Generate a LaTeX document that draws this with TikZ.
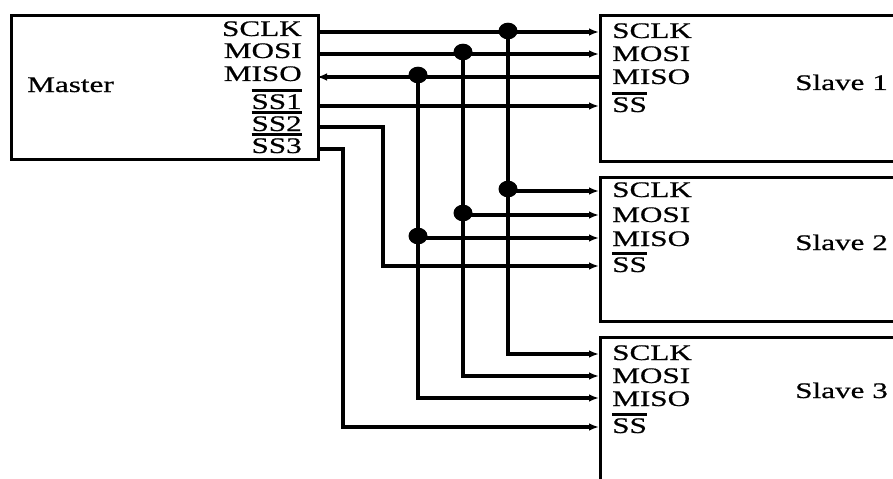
\documentclass[tikz,border=0pt]{standalone}
\usepackage{fontspec}
\setmainfont[FakeStretch=1.4, FakeBold=0.6]{Liberation Serif}
\usetikzlibrary{arrows.meta, shapes.geometric, positioning, calc}
\newcommand{\barsig}[1]{\setbox0\hbox{#1}\rlap{\rule[\dimexpr\ht0+2pt\relax]{\wd0}{2.2pt}}\box0}
\tikzset{
  chipbox/.style={
    rectangle, draw=black, line width=2.8pt,
    anchor=north west, inner sep=0pt
  },
  pinlabel/.style={inner sep=0pt, font=\fontsize{19}{21}\selectfont},
  busline/.style={line width=2.8pt},
  busarrow/.style={busline, -{Latex[length=3mm,width=2.3mm]}},
  junction/.style={
    ellipse, fill=black, inner sep=0pt,
    minimum width=0.57cm, minimum height=0.5cm
  },
}

\begin{document}
\begin{tikzpicture}[x=0.03cm, y=-0.03cm]
    \path[use as bounding box, clip] (0,0) rectangle (893,479);

    % chips
    \node[chipbox, minimum width=9.21cm, minimum height=4.32cm] (master) at (10,14){};
    \node[chipbox, minimum width=9.4cm,  minimum height=4.38cm] (slave1) at (599,14){};
    \node[chipbox, minimum width=9.4cm,  minimum height=4.32cm] (slave2) at (599,176){};
    \node[chipbox, minimum width=9.4cm,  minimum height=5.2cm]  (slave3) at (599,336){};

    \node[pinlabel, anchor=base west] (mname) at (27,92){Master};
    \node[pinlabel, anchor=base west] (s1-name) at (795,90){Slave 1};
    \node[pinlabel, anchor=base west] (s2-name) at (795,250){Slave 2};
    \node[pinlabel, anchor=base west] (s3-name) at (795,398){Slave 3};

    % master pins
    \node[pinlabel, anchor=base east] (ml-sclk) at (302,36){SCLK};
    \node[pinlabel, anchor=base east] (ml-mosi) at (302,58){MOSI};
    \node[pinlabel, anchor=base east] (ml-miso) at (302,81){MISO};
    \node[pinlabel, anchor=base east] (ml-ssa)  at (302,109){\barsig{SS1}};
    \node[pinlabel, anchor=base east] (ml-ssb)  at (302,131){\barsig{SS2}};
    \node[pinlabel, anchor=base east] (ml-ssc)  at (302,153){\barsig{SS3}};

    \coordinate (m-sclk) at (317,32);
    \coordinate (m-mosi) at (317,54);
    \coordinate (m-miso) at (317,77);
    \coordinate (m-ssa)  at (317,106);
    \coordinate (m-ssb)  at (317,127);
    \coordinate (m-ssc)  at (317,149);

    % slave pins
    \node[pinlabel, anchor=base west] (s1l-sclk) at (612,38){SCLK};
    \node[pinlabel, anchor=base west] (s1l-mosi) at (612,61){MOSI};
    \node[pinlabel, anchor=base west] (s1l-miso) at (612,84){MISO};
    \node[pinlabel, anchor=base west] (s1l-ss)   at (612,112){\barsig{SS}};
    \node[pinlabel, anchor=base west] (s2l-sclk) at (612,197){SCLK};
    \node[pinlabel, anchor=base west] (s2l-mosi) at (612,222){MOSI};
    \node[pinlabel, anchor=base west] (s2l-miso) at (612,246){MISO};
    \node[pinlabel, anchor=base west] (s2l-ss)   at (612,272){\barsig{SS}};
    \node[pinlabel, anchor=base west] (s3l-sclk) at (612,360){SCLK};
    \node[pinlabel, anchor=base west] (s3l-mosi) at (612,383){MOSI};
    \node[pinlabel, anchor=base west] (s3l-miso) at (612,406){MISO};
    \node[pinlabel, anchor=base west] (s3l-ss)   at (612,433){\barsig{SS}};

    \coordinate (s1-sclk) at (599,32);
    \coordinate (s1-mosi) at (599,54);
    \coordinate (s1-miso) at (599,77);
    \coordinate (s1-ss)   at (599,106);
    \coordinate (s2-sclk) at (599,191);
    \coordinate (s2-mosi) at (599,215);
    \coordinate (s2-miso) at (599,238);
    \coordinate (s2-ss)   at (599,266);
    \coordinate (s3-sclk) at (599,354);
    \coordinate (s3-mosi) at (599,376);
    \coordinate (s3-miso) at (599,398);
    \coordinate (s3-ss)   at (599,427);

    % junctions and bends
    \node[junction] (j1-sclk) at (508,31){};
    \node[junction] (j1-mosi) at (463,52){};
    \node[junction] (j1-miso) at (418,75){};
    \node[junction] (j2-sclk) at (508,189){};
    \node[junction] (j2-mosi) at (463,213){};
    \node[junction] (j2-miso) at (418,236){};
    \coordinate (k-ssb) at (383,127);
    \coordinate (k-ssc) at (343,149);

    % slave 1
    \draw[busarrow] (m-sclk) -- (s1-sclk);
    \draw[busarrow] (m-mosi) -- (s1-mosi);
    \draw[busarrow] (s1-miso) -- (m-miso);
    \draw[busarrow] (m-ssa)  -- (s1-ss);

    % buses down to slave 2 and 3
    \draw[busline]  (j1-sclk |- s1-sclk) -- (j2-sclk |- s2-sclk);
    \draw[busline]  (j1-mosi |- s1-mosi) -- (j2-mosi |- s2-mosi);
    \draw[busline]  (j1-miso |- s1-miso) -- (j2-miso |- s2-miso);
    \draw[busarrow] (j2-sclk |- s2-sclk) -- (s2-sclk);
    \draw[busarrow] (j2-mosi |- s2-mosi) -- (s2-mosi);
    \draw[busarrow] (j2-miso |- s2-miso) -- (s2-miso);
    \draw[busarrow] (j2-sclk |- s2-sclk) |- (s3-sclk);
    \draw[busarrow] (j2-mosi |- s2-mosi) |- (s3-mosi);
    \draw[busarrow] (j2-miso |- s2-miso) |- (s3-miso);

    % slave selects
    \draw[busarrow] (m-ssb) -- (k-ssb) |- (s2-ss);
    \draw[busarrow] (m-ssc) -- (k-ssc) |- (s3-ss);
\end{tikzpicture}
\end{document}
